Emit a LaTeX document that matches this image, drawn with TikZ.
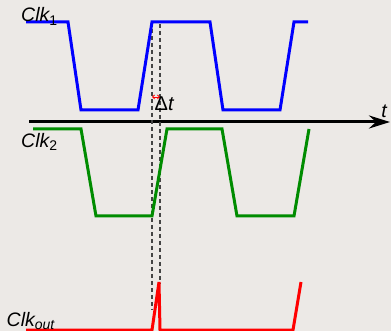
\documentclass[tikz,border=0pt]{standalone}
\usepackage{fontspec}
\setmainfont{Liberation Sans}
\usetikzlibrary{arrows.meta}
\definecolor{bg}{HTML}{ECE9E6}
\definecolor{clkblue}{HTML}{0000FF}
\definecolor{clkgreen}{HTML}{008C00}
\definecolor{clkred}{HTML}{FF0000}
\definecolor{guide}{HTML}{444444}
\newcommand{\subsz}{\fontsize{14}{14}\selectfont}
\tikzset{
  wave/.style={line width=3pt, line join=miter},
  guideline/.style={guide, line width=1.5pt, dash pattern=on 4pt off 3pt},
  siglabel/.style={font=\fontsize{19.5}{20}\selectfont\itshape, inner sep=0pt, anchor=base west},
}
\begin{document}
\begin{tikzpicture}[x=1pt, y=-1pt]
  \fill[bg] (0,0) rectangle (391,331);
  \useasboundingbox (0,0) rectangle (391,331);

  % time axis
  \coordinate (axstart) at (29,122);
  \coordinate (axend) at (390,122);
  \draw[line width=3pt, -{Stealth[length=21pt, width=13pt, inset=7pt]}] (axstart) -- (axend);
  \node[font=\fontsize{19.5}{20}\selectfont\itshape, inner sep=0pt, anchor=base] (tlab) at (384,118) {t};

  % guide lines at the edges of the output pulse
  \draw[guideline] (152,22) -- (152,310);
  \draw[guideline] (160,24) -- (160,284);

  % clock 1
  \draw[wave, clkblue] (26,22) -- (68,22) -- (81,110) -- (138,110) -- (152,22)
    -- (210,22) -- (223,110) -- (280,110) -- (294,22) -- (308,22);

  % clock 2
  \draw[wave, clkgreen] (33,129) -- (81,129) -- (96,216) -- (152,216) -- (167,129)
    -- (222,129) -- (237,216) -- (294,216) -- (309,129);

  % output clock
  \draw[wave, clkred] (26,330) -- (152,330) -- (159,282) -- (160,330)
    -- (293,330) -- (301,282);

  % delay marker
  \draw[clkred, line width=0.8pt, {Straight Barb[length=2pt]}-{Straight Barb[length=2pt]}] (152,97) -- (160,97);
  \node[font=\fontsize{20}{20}\selectfont, inner sep=0pt, anchor=base west] (dlab) at (154.5,111) {Δ\textit{t}};

  % signal names
  \node[siglabel] (c1) at (21,22) {Clk\textsubscript{\upshape\subsz 1}};
  \node[siglabel] (c2) at (21,147.5) {Clk\textsubscript{\upshape\subsz 2}};
  \node[siglabel] (c3) at (6.5,326) {Clk\textsubscript{\subsz out}};
\end{tikzpicture}
\end{document}
